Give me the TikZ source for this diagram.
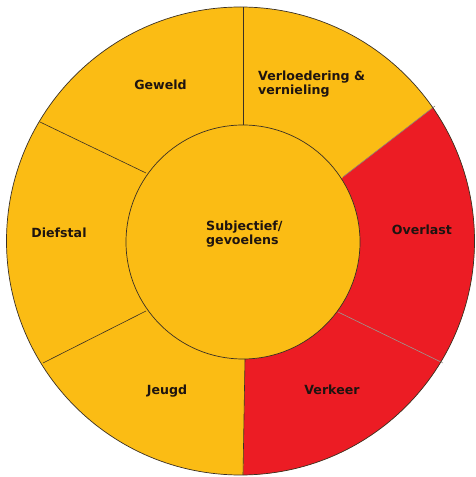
\documentclass[tikz,border=0pt]{standalone}
\usepackage{fontspec}
\setmainfont{DejaVu Sans}
\definecolor{segyellow}{HTML}{FBBC14}
\definecolor{segred}{HTML}{EC1C24}
\definecolor{edgegray}{HTML}{3A3024}
\definecolor{txt}{HTML}{1E1410}
\begin{document}
\begin{tikzpicture}[x=1pt,y=1pt,
  lbl/.style={font=\fontsize{12.6}{14}\selectfont\bfseries, text=txt, inner sep=0pt},
  sep/.style={draw=edgegray, line width=0.6pt},
  ring/.style={draw=edgegray, line width=0.7pt}]
\useasboundingbox (0,0) rectangle (475,477);
\fill[white] (0,0) rectangle (475,477);
% centres
\coordinate (O) at (240.5,236);
\coordinate (I) at (243,235);
% outer disc
\fill[segyellow] (O) circle[radius=234];
% red sectors
\begin{scope}
  \clip (343,300) -- (527,442) -- (560,-60) -- (242.5,-60) -- (245,118) -- cycle;
  \fill[segred] (O) circle[radius=234];
\end{scope}
% inner disc
\fill[segyellow] (I) circle[radius=117];
% separators
\coordinate (t1) at (243,352); \coordinate (t2) at (243,470);
\coordinate (a1) at (343,300); \coordinate (a2) at (435,371);
\coordinate (b1) at (338,165); \coordinate (b2) at (443,114);
\coordinate (c1) at (245,118); \coordinate (c2) at (243,2);
\coordinate (d1) at (146,166); \coordinate (d2) at (43,114);
\coordinate (e1) at (146,304); \coordinate (e2) at (40,355);
\draw[sep] (t1) -- (t2);
\draw[sep, draw=edgegray!60] (a1) -- (a2);
\draw[sep, draw=edgegray!50] (b1) -- (b2);
\draw[sep] (c1) -- (c2);
\draw[sep] (d1) -- (d2);
\draw[sep] (e1) -- (e2);
% circles
\draw[ring] (O) circle[radius=234];
\draw[ring] (I) circle[radius=117];
% labels
\node[lbl] (geweld) at (160.5,392) {Geweld};
\node[lbl, anchor=west, align=left] (verl) at (258,393) {Verloedering \&\\vernieling};
\node[lbl] (diefstal) at (59,244) {Diefstal};
\node[lbl, anchor=west, align=left] (subj) at (206,243) {Subjectief/\\gevoelens};
\node[lbl] (overlast) at (422,247) {Overlast};
\node[lbl] (jeugd) at (167,86) {Jeugd};
\node[lbl] (verkeer) at (332,87) {Verkeer};
\end{tikzpicture}
\end{document}
